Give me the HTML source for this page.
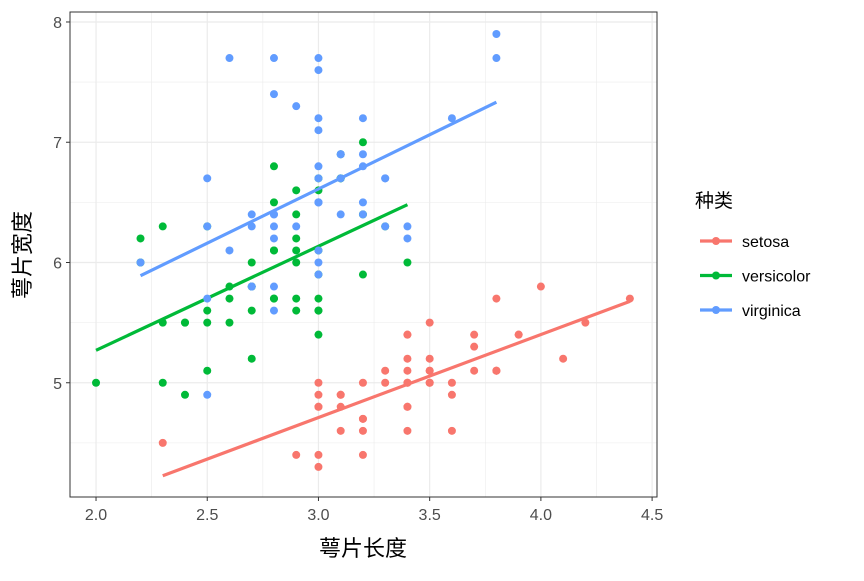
<!DOCTYPE html>
<html><head><meta charset="utf-8">
<style>
body{margin:0;background:#fff;}
svg text{font-family:"Liberation Sans","Noto Sans CJK SC",sans-serif;}
</style></head>
<body>
<svg id="chart" width="864" height="576" xmlns="http://www.w3.org/2000/svg">
<rect width="864" height="576" fill="#fff"/>
<g id="grid"></g>
<g id="marks"></g>
<rect x="70" y="12" width="587" height="485" fill="none" stroke="#333" stroke-width="1"/>
<g id="axes"></g>
<text x="363" y="556" font-size="22" text-anchor="middle" fill="#000">萼片长度</text>
<text transform="translate(30,255) rotate(-90)" font-size="22" text-anchor="middle" fill="#000">萼片宽度</text>
<g>
<text x="695" y="207" font-size="19" fill="#000">种类</text>
<g id="legend"></g>
</g>
</svg>
<script>
const species=["setosa","versicolor","virginica"];
const colors=["#F8766D","#00BA38","#619CFF"];
const xTicks=[2.0,2.5,3.0,3.5,4.0,4.5];
const xTickLabels=["2.0","2.5","3.0","3.5","4.0","4.5"];
const yTicks=[5,6,7,8];
const yTickLabels=["5","6","7","8"];
const setosaX=[3.5,3.0,3.2,3.1,3.6,3.9,3.4,3.4,2.9,3.1,3.7,3.4,3.0,3.0,4.0,4.4,3.9,3.5,3.8,3.8,3.4,3.7,3.6,3.3,3.4,3.0,3.4,3.5,3.4,3.2,3.1,3.4,4.1,4.2,3.1,3.2,3.5,3.6,3.0,3.4,3.5,2.3,3.2,3.5,3.8,3.0,3.8,3.2,3.7,3.3];
const setosaY=[5.1,4.9,4.7,4.6,5.0,5.4,4.6,5.0,4.4,4.9,5.4,4.8,4.8,4.3,5.8,5.7,5.4,5.1,5.7,5.1,5.4,5.1,4.6,5.1,4.8,5.0,5.0,5.2,5.2,4.7,4.8,5.4,5.2,5.5,4.9,5.0,5.5,4.9,4.4,5.1,5.0,4.5,4.4,5.0,5.1,4.8,5.1,4.6,5.3,5.0];
const versicolorX=[3.2,3.2,3.1,2.3,2.8,2.8,3.3,2.4,2.9,2.7,2.0,3.0,2.2,2.9,2.9,3.1,3.0,2.7,2.2,2.5,3.2,2.8,2.5,2.8,2.9,3.0,2.8,3.0,2.9,2.6,2.4,2.4,2.7,2.7,3.0,3.4,3.1,2.3,3.0,2.5,2.6,3.0,2.6,2.3,2.7,3.0,2.9,2.9,2.5,2.8];
const versicolorY=[7.0,6.4,6.9,5.5,6.5,5.7,6.3,4.9,6.6,5.2,5.0,5.9,6.0,6.1,5.6,6.7,5.6,5.8,6.2,5.6,5.9,6.1,6.3,6.1,6.4,6.6,6.8,6.7,6.0,5.7,5.5,5.5,5.8,6.0,5.4,6.0,6.7,6.3,5.6,5.5,5.5,6.1,5.8,5.0,5.6,5.7,5.7,6.2,5.1,5.7];
const virginicaX=[3.3,2.7,3.0,2.9,3.0,3.0,2.5,2.9,2.5,3.6,3.2,2.7,3.0,2.5,2.8,3.2,3.0,3.8,2.6,2.2,3.2,2.8,2.8,2.7,3.3,3.2,2.8,3.0,2.8,3.0,2.8,3.8,2.8,2.8,2.6,3.0,3.4,3.1,3.0,3.1,3.1,3.1,2.7,3.2,3.3,3.0,2.5,3.0,3.4,3.0];
const virginicaY=[6.3,5.8,7.1,6.3,6.5,7.6,4.9,7.3,6.7,7.2,6.5,6.4,6.8,5.7,5.8,6.4,6.5,7.7,7.7,6.0,6.9,5.6,7.7,6.3,6.7,7.2,6.2,6.1,6.4,7.2,7.4,7.9,6.4,6.3,6.1,7.7,6.3,6.4,6.0,6.9,6.7,6.9,5.8,6.8,6.7,6.7,6.3,6.5,6.2,5.9];
const seriesX=[setosaX,versicolorX,virginicaX];
const seriesY=[setosaY,versicolorY,virginicaY];

const L=70,R=657,T=12,B=497;
const x0=1.883,x1=4.522,y0=4.05,y1=8.083;
const sx=v=>L+(v-x0)/(x1-x0)*(R-L);
const sy=v=>B-(v-y0)/(y1-y0)*(B-T);
const NS="http://www.w3.org/2000/svg";
function mk(tag,attrs,parent){const e=document.createElementNS(NS,tag);for(const k in attrs)e.setAttribute(k,attrs[k]);parent.appendChild(e);return e;}
const grid=document.getElementById('grid'),marks=document.getElementById('marks'),axes=document.getElementById('axes'),leg=document.getElementById('legend');
mk('rect',{x:L,y:T,width:R-L,height:B-T,fill:'#fff'},grid);
for(let i=0;i<xTicks.length;i++){
  const m=xTicks[i]+0.25;
  if(m<x1){const g=mk('line',{x1:sx(m),x2:sx(m),y1:T,y2:B,stroke:'#ebebeb','stroke-width':0.6},grid);}
  const g=mk('line',{x1:sx(xTicks[i]),x2:sx(xTicks[i]),y1:T,y2:B,stroke:'#ebebeb','stroke-width':1.2},grid);
  
  const t=mk('line',{x1:sx(xTicks[i]),x2:sx(xTicks[i]),y1:B,y2:B+4,stroke:'#333'},axes);
  
  const lb=mk('text',{x:sx(xTicks[i]),y:B+23,'font-size':16,'text-anchor':'middle',fill:'#4d4d4d'},axes);
  lb.textContent=xTickLabels[i];
  
}
for(let i=0;i<yTicks.length;i++){
  const m=yTicks[i]-0.5;
  if(m>y0){const g=mk('line',{x1:L,x2:R,y1:sy(m),y2:sy(m),stroke:'#ebebeb','stroke-width':0.6},grid);}
  const g=mk('line',{x1:L,x2:R,y1:sy(yTicks[i]),y2:sy(yTicks[i]),stroke:'#ebebeb','stroke-width':1.2},grid);
  
  const t=mk('line',{x1:L-4,x2:L,y1:sy(yTicks[i]),y2:sy(yTicks[i]),stroke:'#333'},axes);
  
  const lb=mk('text',{x:L-8,y:sy(yTicks[i])+6,'font-size':16,'text-anchor':'end',fill:'#4d4d4d'},axes);
  lb.textContent=yTickLabels[i];
  
}
for(let s=0;s<3;s++){
  const X=seriesX[s],Y=seriesY[s];
  for(let i=0;i<X.length;i++){
    const c=mk('circle',{cx:sx(X[i]),cy:sy(Y[i]),r:4,fill:colors[s]},marks);
    
  }
  const n=X.length,mx=X.reduce((a,b)=>a+b)/n,my=Y.reduce((a,b)=>a+b)/n;
  let sxy=0,sxx=0;for(let i=0;i<n;i++){sxy+=(X[i]-mx)*(Y[i]-my);sxx+=(X[i]-mx)**2;}
  const b=sxy/sxx,a=my-b*mx,xa=Math.min(...X),xb=Math.max(...X);
  const l=mk('line',{x1:sx(xa),y1:sy(a+b*xa),x2:sx(xb),y2:sy(a+b*xb),stroke:colors[s],'stroke-width':3.2},marks);
  
  const ly=241+s*34.5;
  const ll=mk('line',{x1:700,x2:732,y1:ly,y2:ly,stroke:colors[s],'stroke-width':3.2},leg);
  
  mk('circle',{cx:716,cy:ly,r:4,fill:colors[s]},leg);
  const lt=mk('text',{x:742,y:ly+6,'font-size':16,fill:'#000'},leg);
  lt.textContent=species[s];
  
}
</script>
</body></html>
